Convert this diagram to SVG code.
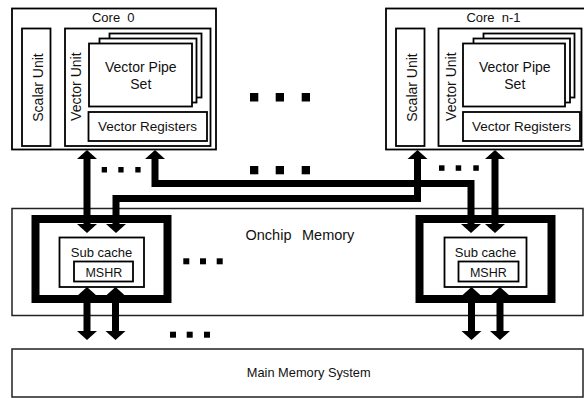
<svg xmlns="http://www.w3.org/2000/svg" width="584" height="398" viewBox="0 0 584 398">
<style>
.box{fill:#fff;stroke:#000;stroke-width:1.8}
.thin{fill:#fff;stroke:#222;stroke-width:1.5}
.frame{fill:none;stroke:#000;stroke-width:8;stroke-linejoin:miter}
.bus{fill:none;stroke:#000;stroke-width:7;stroke-linejoin:miter;stroke-linecap:butt}
.head{fill:#000}
.dot{fill:#000}
text{font-family:"Liberation Sans",Arial,sans-serif;fill:#111}
.c{text-anchor:middle}
</style>
<rect width="584" height="398" fill="#fff"/>

<g id="onchip-memory">
<rect class="thin" x="12" y="208.5" width="571" height="107"/>
<text x="245.5" y="240" font-size="14.5">Onchip <tspan x="302">Memory</tspan></text>
</g>

<g id="main-memory">
<rect class="thin" x="12" y="349" width="571" height="48"/>
<text class="c" x="308.7" y="377" font-size="12.8">Main Memory System</text>
</g>

<g id="core-0">
<rect class="box" x="12" y="8.5" width="204" height="141"/>
<text class="c" x="113.3" y="21.5" font-size="13" xml:space="preserve">Core  0</text>
<g id="core-0-scalar">
<rect class="box" x="22" y="28.5" width="28.5" height="117.5"/>
<text class="c" font-size="14" transform="translate(42.5,87.5) rotate(-90)">Scalar Unit</text>
</g>
<g id="core-0-vector">
<rect class="box" x="65" y="28.5" width="145.5" height="117.5"/>
<text class="c" font-size="14" transform="translate(81,86.7) rotate(-90)">Vector Unit</text>
<rect class="box" x="109.5" y="33.5" width="92" height="64"/>
<rect class="box" x="99.5" y="38.5" width="97" height="64"/>
<rect class="box" x="89" y="43.5" width="103" height="63"/>
<text class="c" x="140.8" y="71.7" font-size="14">Vector Pipe</text>
<text class="c" x="140.8" y="89" font-size="14">Set</text>
<rect class="box" x="88.5" y="112" width="118.5" height="29"/>
<text class="c" x="147.5" y="130.5" font-size="13.5">Vector Registers</text>
</g>
</g>

<g id="core-n-1">
<rect class="box" x="386" y="8.5" width="210" height="141"/>
<text class="c" x="493.5" y="21.5" font-size="13" xml:space="preserve">Core  n-1</text>
<g id="core-n-1-scalar">
<rect class="box" x="396" y="28.5" width="28.5" height="117.5"/>
<text class="c" font-size="14" transform="translate(416.5,87.5) rotate(-90)">Scalar Unit</text>
</g>
<g id="core-n-1-vector">
<rect class="box" x="438.5" y="28.5" width="143" height="117.5"/>
<text class="c" font-size="14" transform="translate(455.5,86.7) rotate(-90)">Vector Unit</text>
<rect class="box" x="483.5" y="33.5" width="91" height="64"/>
<rect class="box" x="473.5" y="38.5" width="96.5" height="64"/>
<rect class="box" x="463" y="43.5" width="102" height="63"/>
<text class="c" x="514.8" y="71.7" font-size="14">Vector Pipe</text>
<text class="c" x="514.8" y="89" font-size="14">Set</text>
<rect class="box" x="463" y="112" width="117" height="29"/>
<text class="c" x="521.5" y="130.5" font-size="13.5">Vector Registers</text>
</g>
</g>

<g id="subcache-0">
<rect class="frame" x="35.5" y="219" width="132" height="80"/>
<rect class="box" x="59.5" y="237.5" width="84.5" height="49.5" stroke-width="1.5"/>
<text class="c" x="101.5" y="257.3" font-size="13">Sub cache</text>
<rect class="box" x="74" y="261.5" width="59" height="20" stroke-width="1.5"/>
<text class="c" x="103.8" y="276.7" font-size="12.5">MSHR</text>
</g>

<g id="subcache-n-1">
<rect class="frame" x="419.5" y="219" width="132" height="80"/>
<rect class="box" x="444.5" y="237.5" width="82" height="49.5" stroke-width="1.5"/>
<text class="c" x="485.5" y="257.3" font-size="13">Sub cache</text>
<rect class="box" x="458.5" y="261.5" width="60" height="20" stroke-width="1.5"/>
<text class="c" x="488.3" y="276.7" font-size="12.5">MSHR</text>
</g>

<g id="connectors">
<!-- core 0 port 1 <-> subcache 0 -->
<line class="bus" x1="87" y1="158" x2="87" y2="225"/>
<polygon class="head" points="87,150 77,159 97,159"/>
<polygon class="head" points="87,233 77,224 97,224"/>
<!-- core 0 port 2 -> subcache n-1 -->
<path class="bus" d="M155,158 V183.5 H471 V225"/>
<polygon class="head" points="155,150 145,159 165,159"/>
<polygon class="head" points="471,233 461,224 481,224"/>
<!-- core n-1 port 1 -> subcache 0 -->
<path class="bus" d="M417.5,158 V198.5 H116 V225"/>
<polygon class="head" points="417.5,150 407.5,159 427.5,159"/>
<polygon class="head" points="116,233 106,224 126,224"/>
<!-- core n-1 port 2 <-> subcache n-1 -->
<line class="bus" x1="495" y1="158" x2="495" y2="225"/>
<polygon class="head" points="495,150 485,159 505,159"/>
<polygon class="head" points="495,233 485,224 505,224"/>
<!-- subcache <-> main memory -->
<line class="bus" x1="87" y1="295" x2="87" y2="332"/>
<polygon class="head" points="87,287 77,296 97,296"/>
<polygon class="head" points="87,340 77,331 97,331"/>
<line class="bus" x1="115.5" y1="295" x2="115.5" y2="332"/>
<polygon class="head" points="115.5,287 105.5,296 125.5,296"/>
<polygon class="head" points="115.5,340 105.5,331 125.5,331"/>
<line class="bus" x1="471.5" y1="295" x2="471.5" y2="332"/>
<polygon class="head" points="471.5,287 461.5,296 481.5,296"/>
<polygon class="head" points="471.5,340 461.5,331 481.5,331"/>
<line class="bus" x1="500" y1="295" x2="500" y2="332"/>
<polygon class="head" points="500,287 490,296 510,296"/>
<polygon class="head" points="500,340 490,331 510,331"/>
</g>

<g id="ellipses">
<rect class="dot" x="250" y="93" width="8.3" height="8.5"/>
<rect class="dot" x="275.7" y="93" width="8.3" height="8.5"/>
<rect class="dot" x="301.7" y="93" width="8.3" height="8.5"/>
<rect class="dot" x="250" y="166" width="8.3" height="8.3"/>
<rect class="dot" x="275.7" y="166" width="8.3" height="8.3"/>
<rect class="dot" x="301.7" y="166" width="8.3" height="8.3"/>
<rect class="dot" x="101.7" y="167" width="5.3" height="5.5"/>
<rect class="dot" x="118.3" y="167" width="5.3" height="5.5"/>
<rect class="dot" x="135.3" y="167" width="5.3" height="5.5"/>
<rect class="dot" x="439" y="165.3" width="5.5" height="5.5"/>
<rect class="dot" x="455.7" y="165.3" width="5.5" height="5.5"/>
<rect class="dot" x="473.3" y="165.3" width="5.5" height="5.5"/>
<rect class="dot" x="183.3" y="258.3" width="6" height="6"/>
<rect class="dot" x="200" y="258.3" width="6" height="6"/>
<rect class="dot" x="216.7" y="258.3" width="6" height="6"/>
<rect class="dot" x="170" y="331.7" width="6" height="6"/>
<rect class="dot" x="186.7" y="331.7" width="6" height="6"/>
<rect class="dot" x="204" y="331.7" width="6" height="6"/>
</g>
</svg>
